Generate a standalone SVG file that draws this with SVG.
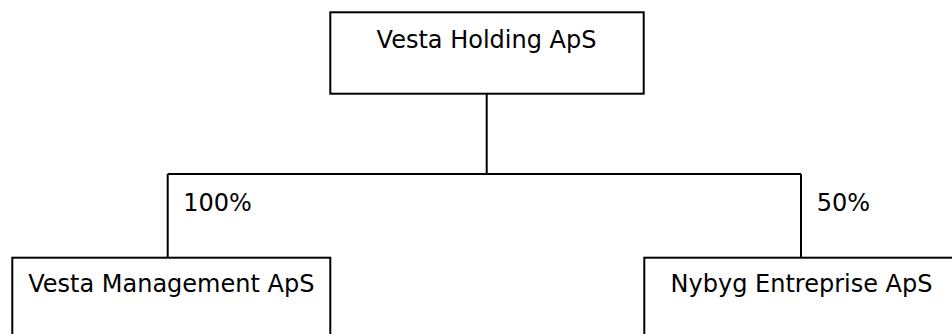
<svg xmlns="http://www.w3.org/2000/svg" width="952" height="334" viewBox="0 0 952 334">
<style>
.box{fill:#fff;stroke:#000;stroke-width:2}
.ln{fill:none;stroke:#000;stroke-width:2}
text{font-family:"DejaVu Sans",Verdana,sans-serif;font-size:24px;fill:#000}
.c{text-anchor:middle}
</style>
<rect width="952" height="334" fill="#fff"/>
<g id="connectors">
<path class="ln" d="M486.7 93.7V174M167.7 174H801M167.7 174V257.7M801 174V257.7"/>
<text x="183.3" y="210.7">100%</text>
<text x="816.7" y="210.7">50%</text>
</g>
<g id="vesta-holding">
<rect class="box" x="330.3" y="12.3" width="313.4" height="81.4"/>
<text class="c" x="486.5" y="47.8">Vesta Holding ApS</text>
</g>
<g id="vesta-management">
<rect class="box" x="12.3" y="257.7" width="318" height="100"/>
<text class="c" x="171.3" y="291.7">Vesta Management ApS</text>
</g>
<g id="nybyg-entreprise">
<rect class="box" x="644.3" y="257.7" width="330" height="100"/>
<text class="c" x="801.5" y="291.7">Nybyg Entreprise ApS</text>
</g>
</svg>
